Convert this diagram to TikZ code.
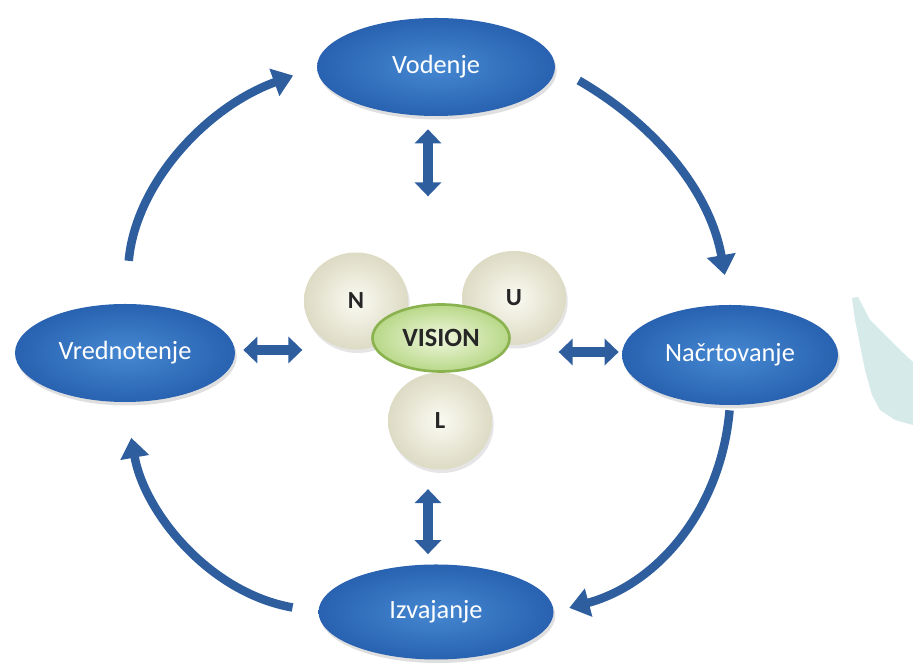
\documentclass[tikz,border=0pt]{standalone}
\usepackage{fontspec}
\setmainfont{Carlito}
\usetikzlibrary{shapes.geometric,arrows.meta,shadows}
\definecolor{ovalblue}{RGB}{40,98,176}
\definecolor{ovallight}{RGB}{70,136,210}
\definecolor{arrowblue}{RGB}{46,94,158}
\definecolor{ballout}{RGB}{221,219,196}
\definecolor{ballin}{RGB}{250,250,242}
\definecolor{visout}{RGB}{184,216,136}
\definecolor{visin}{RGB}{240,247,222}
\definecolor{visedge}{RGB}{138,178,78}
\definecolor{spot}{RGB}{214,234,234}

\begin{document}
\begin{tikzpicture}
	\tikzstyle{phase}=[ellipse, minimum width=4.6cm, minimum height=1.96cm, shading=radial, inner color=ovallight, outer color=ovalblue, text=white, font=\fontsize{15}{18}\selectfont, drop shadow={opacity=0.25,shadow xshift=1pt,shadow yshift=-2pt}]
	\tikzstyle{ball}=[ellipse, minimum width=2.08cm, minimum height=1.94cm, shading=radial, inner color=ballin, outer color=ballout, font=\fontsize{14}{16}\bfseries, text=black!85, drop shadow={opacity=0.2,shadow xshift=1pt,shadow yshift=-2pt}]
	\tikzstyle{core}=[ellipse, minimum width=2.74cm, minimum height=1.34cm, shading=radial, inner color=visin, outer color=visout, draw=visedge, line width=1.5pt, font=\fontsize{15}{18}\bfseries, text=black!85]
	\tikzstyle{cyc}=[arrowblue, line width=0.17cm, -{Triangle[width=0.56cm,length=0.4cm]}]
	\tikzstyle{dbl}=[arrowblue, line width=0.2cm, {Triangle[width=0.52cm,length=0.28cm]}-{Triangle[width=0.52cm,length=0.28cm]}]
	\fill[white] (0,0) rectangle (18.26,13.34);
	\useasboundingbox (0,0) rectangle (18.26,13.34);
	\fill[spot] (17.04,7.38) -- (17.16,7.40) -- (17.40,6.94) -- (17.70,6.64) -- (18.00,6.34) -- (18.26,6.10) -- (18.26,4.84) -- (17.90,4.94) -- (17.60,5.14) -- (17.44,5.44) -- (17.30,5.94) -- (17.20,6.44) -- (17.10,6.94) -- cycle;
	\node[phase, minimum width=4.76cm] (vod) at (8.72,12.00) {Vodenje};
	\node[phase, minimum width=4.4cm] (vred) at (2.50,6.28) {Vrednotenje};
	\node[phase, minimum width=4.32cm, minimum height=2cm] (nac) at (14.60,6.24) {Načrtovanje};
	\node[phase, minimum width=4.7cm, minimum height=1.9cm] (izv) at (8.72,1.10) {Izvajanje};
	\node[ball] (n) at (7.12,7.32) {N};
	\node[ball, minimum height=1.88cm] (u) at (10.28,7.38) {U};
	\node[ball] (l) at (8.80,4.92) {L};
	\node[core] (vis) at (8.82,6.58) {VISION};
	\draw[cyc, shorten <=0.54cm, shorten >=0.6cm] (vod.east) to[out=-30,in=100] (nac.north);
	\draw[cyc, shorten <=0.1cm, shorten >=0.32cm] (nac.south) to[out=-95,in=15] (izv.east);
	\draw[cyc, shorten <=0.52cm, shorten >=0.72cm] (izv.west) to[out=170,in=-80] (vred.south);
	\draw[cyc, shorten <=0.86cm, shorten >=0.5cm] (vred.north) to[out=85,in=200] (vod.west);
	\draw[dbl] ([shift={(0.16,0.06)}]vred.east) -- ++(1.18,0);
	\draw[dbl] ([shift={(-0.06,0.06)}]nac.west) -- ++(-1.2,0);
	\draw[dbl] ([shift={(-0.16,-0.26)}]vod.south) -- ++(0,-1.34);
	\draw[dbl] ([shift={(-0.16,0.2)}]izv.north) -- ++(0,1.3);
\end{tikzpicture}
\end{document}
